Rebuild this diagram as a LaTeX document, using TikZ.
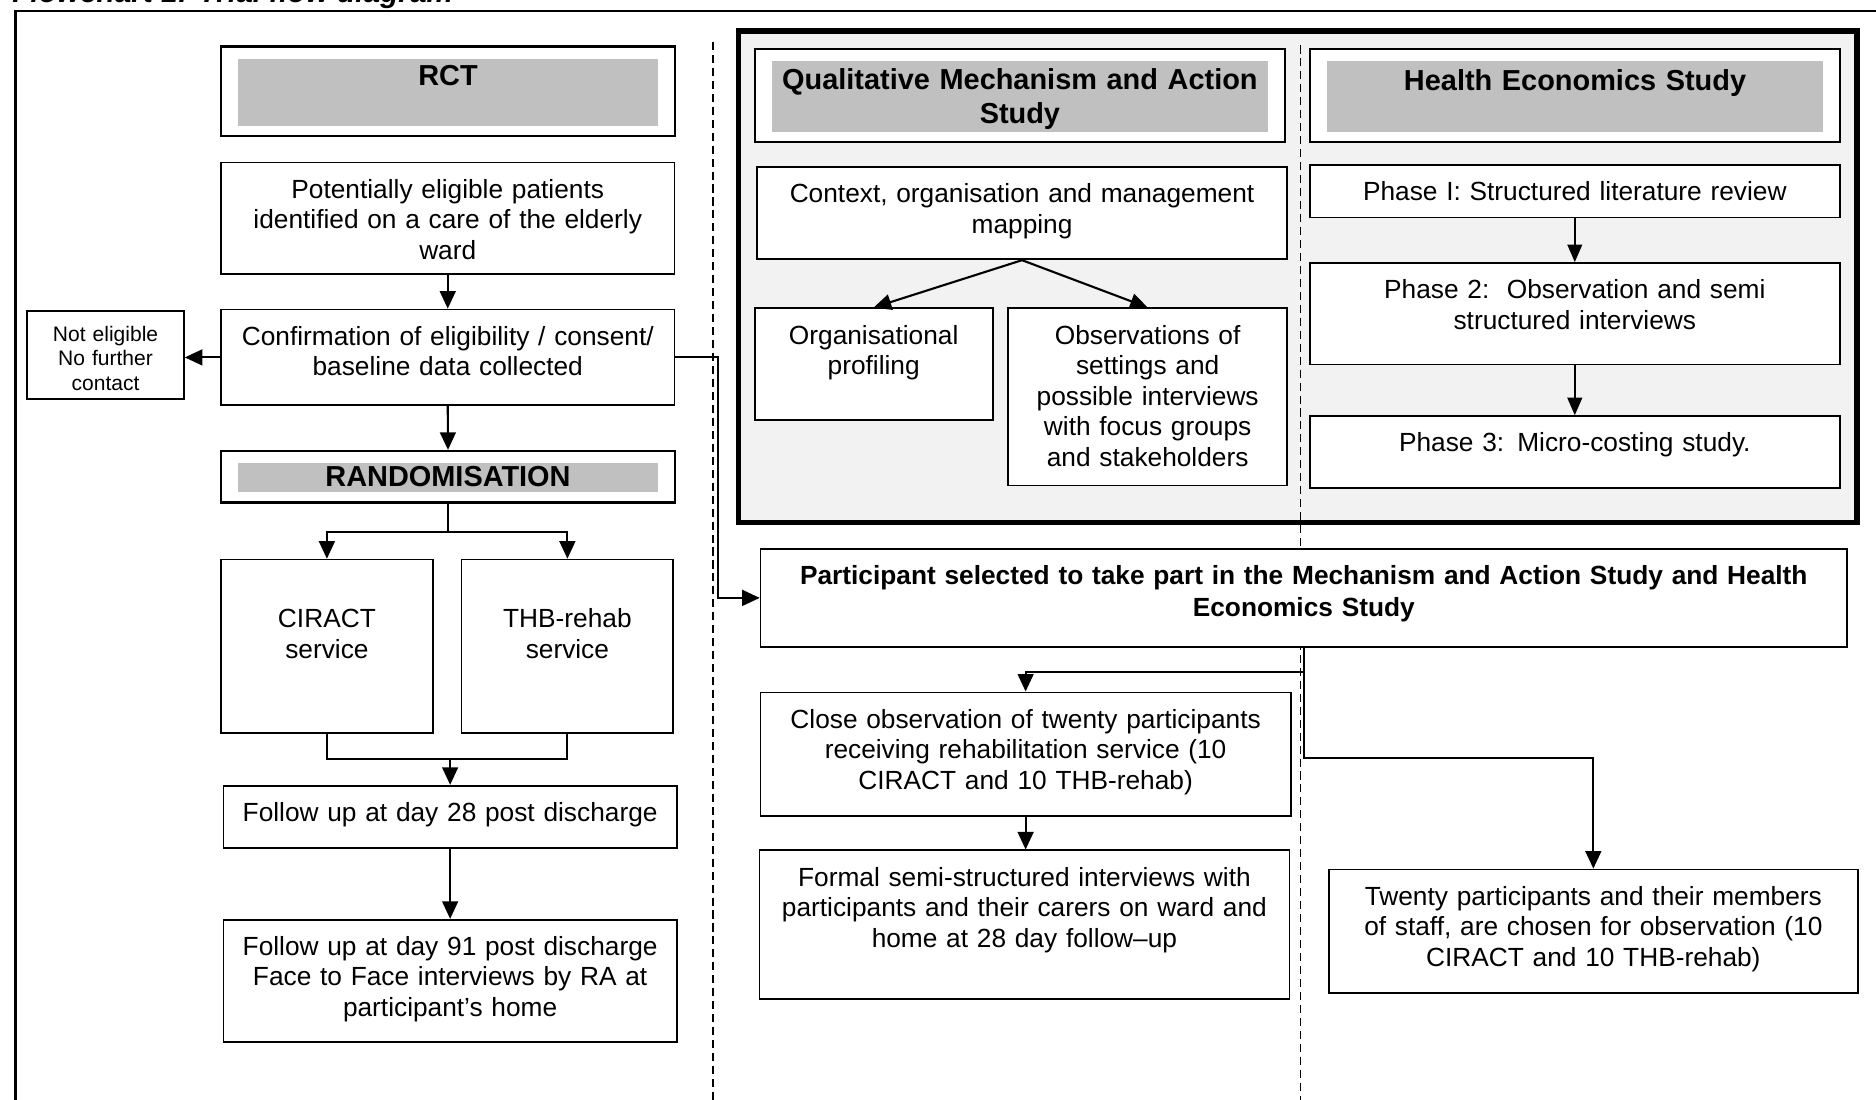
\documentclass[tikz,border=0pt]{standalone}
\usepackage{fontspec}
\setmainfont{Liberation Sans}
\usepackage{tikz}
\usetikzlibrary{arrows.meta, calc, positioning}
\definecolor{hdrgray}{HTML}{C0C0C0}
\definecolor{panelgray}{HTML}{F2F2F2}
\newcommand{\pxu}{0.024cm}
\newcommand{\bxtop}{20.4pt}

\begin{document}
\begin{tikzpicture}[x=\pxu, y=-\pxu, font=\fontsize{15}{17.4}\selectfont,
  firstline/.code={\def\bxtop{#1}},
  box/.style={draw, line width=1pt, fill=white, anchor=north west, align=center,
    inner xsep=2pt, inner ysep=0pt, firstline=20.4pt},
  sz/.style 2 args={/utils/exec={\pgfmathsetlengthmacro\bxw{#1*\pxu-4pt}%
      \pgfmathsetlengthmacro\bxd{#2*\pxu-\bxtop}},
    text width=\bxw, text height=\bxtop, text depth=\bxd},
  hdr/.style={box, line width=1.3pt, firstline=22pt,
    font=\fontsize{16.5}{19.8}\selectfont\bfseries,
    path picture={\fill[hdrgray] ([xshift=14*\pxu, yshift=-10*\pxu]path picture bounding box.north west)
      rectangle ([xshift=-14*\pxu, yshift=9*\pxu]path picture bounding box.south east);}},
  arr/.style={line width=1.2pt, -{Triangle[length=10pt, width=9pt]}},
  arrthin/.style={line width=0.8pt, -{Triangle[length=10pt, width=8.5pt]}},
  link/.style={line width=1.2pt},
  divider/.style={line width=0.9pt, dash pattern=on 4.6pt off 2.8pt}]

\useasboundingbox (0,0) rectangle (1568,919);
\node[anchor=base west, inner sep=0pt, font=\fontsize{17}{19}\selectfont\bfseries\itshape] (title) at (10,2.3) {Flowchart 1: Trial flow diagram};

% frame, panel and dividers
\draw[line width=1.3pt] (13,9) rectangle (1640,1000);
\draw[line width=3pt, fill=panelgray] (617,26) rectangle (1552,437);
\draw[divider] (596,35) -- (596,919);
\draw[divider] (1087,38) -- (1087,919);

% RCT column
\node[hdr, sz={379}{75}] (rct) at (184,38) {RCT};
\node[box, sz={379}{93}] (pot) at (184,135) {Potentially eligible patients\\identified on a care of the elderly\\ward};
\node[box, sz={379}{80}] (conf) at (184,258) {Confirmation of eligibility / consent/\\baseline data collected};
\node[box, firstline=17.3pt, sz={131}{74}, font=\fontsize{12}{14}\selectfont] (noelig) at (22,259) {Not eligible\\No further\\contact};
\node[hdr, firstline=20pt, sz={379}{43}] (rand) at (184,376) {RANDOMISATION};
\node[box, firstline=39pt, sz={177}{145}] (ciract) at (184,467) {CIRACT\\service};
\node[box, firstline=39pt, sz={177}{145}] (thb) at (385,467) {THB-rehab\\service};
\node[box, sz={379}{52}] (fu28) at (186,656) {Follow up at day 28 post discharge};
\node[box, sz={379}{102}] (fu91) at (186,768) {Follow up at day 91 post discharge\\Face to Face interviews by RA at\\participant’s home};

% qualitative study
\node[hdr, firstline=23pt, sz={443}{78}] (qmas) at (630,40) {Qualitative Mechanism and Action\\Study};
\node[box, sz={443}{77}] (ctx) at (632,139) {Context, organisation and management\\mapping};
\node[box, sz={199}{93}] (org) at (630,257) {Organisational\\profiling};
\node[box, sz={233}{148}] (obs) at (842,257) {Observations of\\settings and\\possible interviews\\with focus groups\\and stakeholders};

% health economics
\node[hdr, firstline=23.5pt, sz={443}{78}] (hes) at (1094,40) {Health Economics Study};
\node[box, sz={443}{44}] (ph1) at (1094,137) {Phase I: Structured literature review};
\node[box, sz={443}{85}] (ph2) at (1094,219) {Phase 2:\ \ Observation and semi\\structured interviews};
\node[box, sz={443}{60}] (ph3) at (1094,347) {Phase 3: Micro-costing study.};

% selected participants
\node[box, sz={908}{82}, font=\fontsize{15}{18.4}\selectfont\bfseries] (part) at (635,458) {Participant selected to take part in the Mechanism and Action Study and Health\\Economics Study};
\node[box, sz={443}{103}] (close) at (635,578) {Close observation of twenty participants\\receiving rehabilitation service (10\\CIRACT and 10 THB-rehab)};
\node[box, sz={443}{124}] (formal) at (634,710) {Formal semi-structured interviews with\\participants and their carers on ward and\\home at 28 day follow–up};
\node[box, sz={442}{103}] (twenty) at (1110,726) {Twenty participants and their members\\of staff, are chosen for observation (10\\CIRACT and 10 THB-rehab)};

% connectors
\draw[arr] (pot.south) -- (conf.north);
\draw[arr] (conf.west) -- (noelig.east |- conf.west);
\draw[arr] (conf.south) -- (rand.north);
\draw[arr] (rand.south) -- ++(0,24) -| (ciract.north);
\draw[arr] (rand.south) -- ++(0,24) -| (thb.north);
\draw[link] (ciract.south) -- ++(0,21) -| (thb.south);
\coordinate (merge) at ($(ciract.south)+(0,21)$);
\draw[arr] (merge -| fu28.north) -- (fu28.north);
\draw[arr] (fu28.south) -- (fu91.north);
\draw[arr] (conf.east) -- ++(36,0) |- (part.west);
\draw[arr] (ctx.south) -- (org.north);
\draw[arr] (ctx.south) -- (obs.north);
\draw[arrthin] (ph1.south) -- (ph2.north);
\draw[arrthin] (ph2.south) -- (ph3.north);
\draw[arr] (part.south) -- ++(0,20) -| (close.north);
\draw[arr] (part.south) -- ++(0,92) -| (twenty.north);
\draw[arr] (close.south) -- (close.south |- formal.north);
\end{tikzpicture}
\end{document}
